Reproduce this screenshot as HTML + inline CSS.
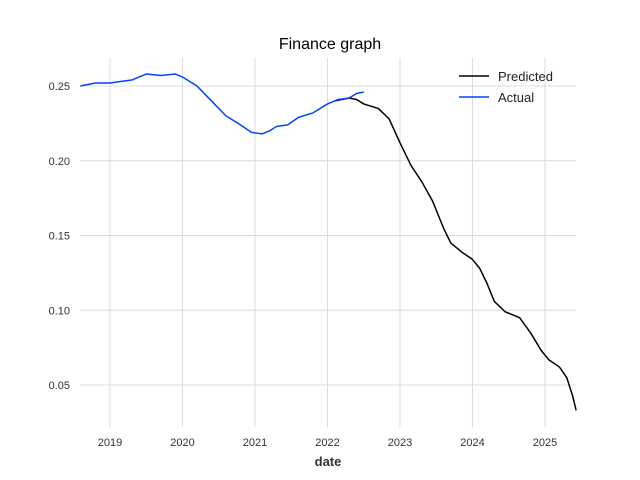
<!DOCTYPE html>
<html><head><meta charset="utf-8"><style>
body{margin:0;background:#fff;}
svg{display:block;font-family:"Liberation Sans","DejaVu Sans",sans-serif;}
</style></head><body>
<svg id="chart" width="640" height="480">
<text x="330" y="49" text-anchor="middle" font-size="16" fill="#000">Finance graph</text>
<g id="grid"></g>
<g id="ticks"></g>
<text x="328" y="466" text-anchor="middle" font-size="13" font-weight="bold" fill="#333">date</text>
<g id="series"></g>
<g>
<line x1="459" y1="76" x2="489" y2="76" stroke="#000" stroke-width="1.5"/>
<text x="498" y="81" font-size="13" fill="#222">Predicted</text>
<line x1="459" y1="97" x2="489" y2="97" stroke="#0343ff" stroke-width="1.5"/>
<text x="498" y="102" font-size="13" fill="#222">Actual</text>
</g>
</svg>
<script>
const xTicks=[2019,2020,2021,2022,2023,2024,2025];
const yTicks=[0.05,0.10,0.15,0.20,0.25];
const yTickLabels=["0.05","0.10","0.15","0.20","0.25"];
const actualX=[2018.59,2018.8,2019.0,2019.3,2019.5,2019.7,2019.9,2020.0,2020.2,2020.4,2020.6,2020.8,2020.95,2021.1,2021.2,2021.3,2021.45,2021.6,2021.8,2022.0,2022.15,2022.3,2022.4,2022.5];
const actualY=[0.250,0.252,0.252,0.254,0.258,0.257,0.258,0.256,0.250,0.240,0.230,0.224,0.219,0.218,0.220,0.223,0.224,0.229,0.232,0.238,0.241,0.242,0.245,0.246];
const predX=[2022.1,2022.3,2022.4,2022.5,2022.7,2022.85,2023.0,2023.15,2023.3,2023.45,2023.6,2023.7,2023.85,2024.0,2024.1,2024.2,2024.3,2024.45,2024.65,2024.8,2024.95,2025.05,2025.2,2025.3,2025.38,2025.43];
const predY=[0.240,0.242,0.241,0.238,0.235,0.228,0.212,0.197,0.186,0.173,0.155,0.145,0.139,0.134,0.128,0.118,0.106,0.099,0.095,0.085,0.073,0.067,0.062,0.055,0.043,0.033];
const L=80,R=576,T=58,B=427;
const X0=2018.586,X1=2025.428;
function sx(v){return L+(v-X0)/(X1-X0)*(R-L);}
function sy(v){return 86+(0.25-v)/0.05*74.75;}
const ns="http://www.w3.org/2000/svg";
const grid=document.getElementById('grid'),ticks=document.getElementById('ticks'),series=document.getElementById('series');
xTicks.forEach(t=>{
 const l=document.createElementNS(ns,'line');
 l.setAttribute('x1',sx(t));l.setAttribute('x2',sx(t));l.setAttribute('y1',T);l.setAttribute('y2',B);
 l.setAttribute('stroke','#dcdcdc');l.setAttribute('stroke-width','1');
 
 
 grid.appendChild(l);
 const tx=document.createElementNS(ns,'text');
 tx.setAttribute('x',sx(t));tx.setAttribute('y',446);tx.setAttribute('text-anchor','middle');tx.setAttribute('font-size','11');tx.setAttribute('fill','#333');
 tx.textContent=t;
 
 
 ticks.appendChild(tx);
});
yTicks.forEach((t,i)=>{
 const l=document.createElementNS(ns,'line');
 l.setAttribute('x1',L);l.setAttribute('x2',R);l.setAttribute('y1',sy(t));l.setAttribute('y2',sy(t));
 l.setAttribute('stroke','#dcdcdc');l.setAttribute('stroke-width','1');
 
 
 grid.appendChild(l);
 const tx=document.createElementNS(ns,'text');
 tx.setAttribute('x',70);tx.setAttribute('y',sy(t)+4);tx.setAttribute('text-anchor','end');tx.setAttribute('font-size','11');tx.setAttribute('fill','#333');
 tx.textContent=yTickLabels[i];
 
 
 ticks.appendChild(tx);
});
function line(xs,ys,color,name){
 const p=document.createElementNS(ns,'polyline');
 p.setAttribute('points',xs.map((x,i)=>sx(x)+','+sy(ys[i])).join(' '));
 p.setAttribute('fill','none');p.setAttribute('stroke',color);p.setAttribute('stroke-width','1.5');p.setAttribute('stroke-linejoin','round');
 
 
 series.appendChild(p);
}
line(predX,predY,'#000','predicted-line');
line(actualX,actualY,'#0343ff','actual-line');
</script>
</body></html>
